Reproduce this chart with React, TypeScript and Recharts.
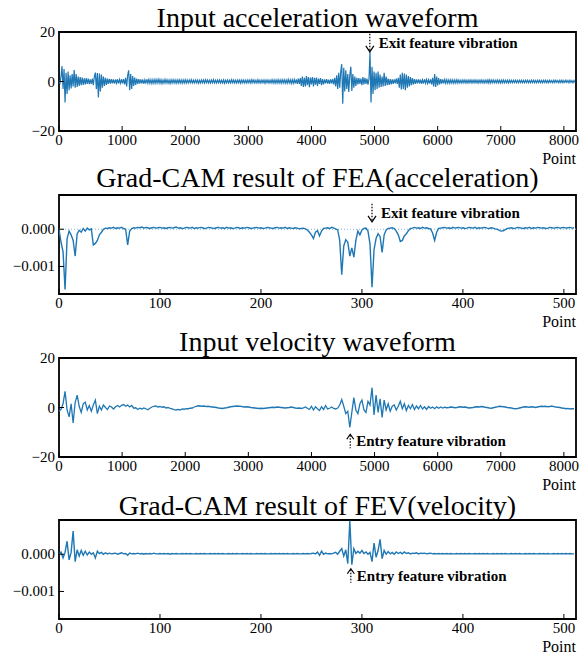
import { LineChart, Line, XAxis, YAxis, ReferenceArea, ReferenceLine, ReferenceDot } from "recharts";

const SERIF = '"Liberation Serif", "Times New Roman", serif';
const BLUE = "#1f77b4";

// sample spacing of the stored values (points)
const ACC_STEP = 16;
const VEL_STEP = 32;
const CAM_STEP = 2;

const waveTicksX = [0, 1000, 2000, 3000, 4000, 5000, 6000, 7000, 8000];
const waveTicksY = [-20, 0, 20];
const camTicksX = [0, 100, 200, 300, 400, 500];
const camTicksY = [-1, 0]; // x 1e-3

// input acceleration waveform, one value every 16 points
const accel = [
  0.3, -0.6, 2.0, 6.2, -3.0, 5.0, -8.5, 3.5, -5.0, 4.0, -3.5, 2.5, -2.8, 3.0, -2.0, 4.6,
  -2.5, 3.0, -2.2, 2.0, -1.8, 1.8, -1.5, 1.6, -1.4, 1.3, -1.2, 1.4, -1.0, 1.2, -1.1, 0.9,
  -1.0, 1.2, -1.5, 2.0, 3.6, -3.0, 3.4, -6.5, 3.2, -4.0, 2.8, -2.5, 2.0, -1.8, 1.5, -1.4,
  1.2, -1.0, 1.1, -0.9, 1.0, -0.8, 0.9, -0.9, 0.8, -0.7, 0.9, -0.8, 0.8, -0.7, 0.9, -0.8,
  1.0, -1.2, 1.5, -2.0, 2.5, 4.5, -3.5, 3.0, -3.0, 2.2, -1.8, 1.6, -1.4, 1.2, -1.0, 1.0,
  -0.9, 0.9, -0.8, 0.8, -0.9, 0.7, -0.8, 0.9, -0.7, 0.8, -0.7, 0.7, -0.8, 0.7, -0.7, 0.8,
  -0.7, 0.8, -0.6, 0.9, -0.7, 0.7, -0.8, 0.6, -0.7, 0.8, -0.6, 0.7, -0.7, 0.6, -0.8, 0.7,
  -0.6, 0.7, -0.6, 0.6, -0.7, 0.6, -0.6, 0.7, -0.6, 0.6, -0.7, 0.6, -0.6, 0.7, -0.6, 0.6,
  -0.6, 0.6, -0.5, 0.7, -0.6, 0.5, -0.6, 0.6, -0.5, 0.6, -0.7, 0.5, -0.6, 0.6, -0.5, 0.6,
  -0.6, 0.7, -0.5, 0.6, -0.6, 0.5, -0.6, 0.6, -0.5, 0.7, -0.6, 0.5, -0.6, 0.6, -0.5, 0.6,
  -0.6, 0.5, -0.6, 0.6, -0.7, 0.5, -0.5, 0.6, -0.6, 0.5, -0.6, 0.7, -0.5, 0.6, -0.6, 0.5,
  -0.6, 0.6, -0.5, 0.6, -0.7, 0.6, -0.5, 0.6, -0.6, 0.5, -0.6, 0.6, -0.5, 0.6, -0.6, 0.7,
  -0.5, 0.6, -0.6, 0.5, -0.6, 0.7, -0.6, 0.5, -0.6, 0.6, -0.5, 0.6, -0.7, 0.6, -0.5, 0.6,
  -0.6, 0.5, -0.6, 0.7, -0.6, 0.6, -0.7, 0.6, -0.6, 0.7, -0.6, 0.6, -0.7, 0.7, -0.6, 0.7,
  -0.7, 0.6, -0.7, 0.8, -0.6, 0.7, -0.8, 0.7, -0.7, 0.8, -0.8, 0.9, -1.0, 1.2, -1.0, 1.4,
  -1.8, 2.0, -2.2, 1.5, -2.0, 2.2, -1.5, 1.8, -2.3, 1.6, -1.2, 1.8, -2.0, 1.5, -1.3, 1.6,
  -1.8, 1.2, -1.0, 1.4, -1.5, 1.0, -1.2, 0.9, -0.8, 1.0, -0.9, 0.8, -1.0, 0.9, -0.8, 1.0,
  -1.2, 1.5, -2.0, 2.5, -3.0, 3.5, -2.5, 4.0, 7.0, -9.0, 5.5, -4.0, 4.5, -3.0, 3.0, -4.2,
  2.5, 6.0, -3.8, 3.0, -2.5, 2.0, -1.8, 1.5, -1.2, 1.4, -1.0, 1.2, -1.5, 1.8, -1.2, 1.5,
  -1.0, 1.2, -1.3, 1.0, 12.0, -8.5, 6.0, -5.0, 4.0, -3.5, 3.5, -3.0, 4.0, -2.5, 2.8, -2.2,
  2.0, -2.0, 3.5, -1.8, 2.0, -1.5, 1.2, -1.4, 1.0, -1.2, 0.9, -1.0, 0.9, -0.8, 1.2, -1.0,
  1.5, -2.5, 2.8, -3.2, 3.5, -3.0, 3.2, -3.5, 2.8, -2.5, 2.2, -2.0, 1.8, -1.5, 1.4, -1.2,
  1.0, -1.0, 0.9, -0.8, 0.9, -0.8, 0.8, -0.9, 0.7, -0.8, 0.9, -0.7, 0.8, -0.8, 0.7, -0.8,
  0.9, -1.2, 1.5, -2.0, 3.0, -2.2, 2.0, -1.6, 1.4, -1.2, 1.0, -0.9, 0.9, -0.8, 0.8, -0.7,
  0.7, -0.7, 0.6, -0.7, 0.7, -0.6, 0.6, -0.7, 0.6, -0.6, 0.7, -0.6, 0.6, -0.6, 0.5, -0.6,
  0.6, -0.5, 0.6, -0.6, 0.5, -0.6, 0.6, -0.5, 0.6, -0.6, 0.5, -0.5, 0.6, -0.5, 0.5, -0.6,
  0.5, -0.5, 0.6, -0.5, 0.5, -0.6, 0.5, -0.5, 0.6, -0.6, 0.7, -0.6, 0.6, -0.5, 0.6, -0.5,
  0.5, -0.5, 0.6, -0.5, 0.5, -0.6, 0.5, -0.5, 0.6, -0.5, 0.5, -0.5, 0.5, -0.6, 0.5, -0.5,
  0.5, -0.5, 0.5, -0.4, 0.5, -0.5, 0.4, -0.5, 0.5, -0.4, 0.5, -0.5, 0.4, -0.5, 0.5, -0.4,
  0.5, -0.5, 0.4, -0.5, 0.5, -0.4, 0.5, -0.5, 0.4, -0.5, 0.5, -0.4, 0.5, -0.5, 0.4, -0.5,
  0.5, -0.4, 0.5, -0.5, 0.4, -0.5, 0.5, -0.4, 0.4, -0.5, 0.5, -0.4, 0.5, -0.4, 0.4, -0.5,
  0.5, -0.4, 0.5, -0.5, 0.4, -0.4, 0.5, -0.4, 0.4, -0.5, 0.5, -0.4, 0.4, -0.5, 0.4, -0.4,
];

// input velocity waveform, one value every 32 points
const velocity = [
  -1.5, -0.8, 1.5, 6.5, -1.0, -3.8, 1.5, -6.2, 2.0, 5.0, 0.5, -2.0, 1.5, 2.2, -1.0, 0.8,
  -1.5, 1.0, 3.0, -2.5, 0.5, -1.0, 1.0, 0.0, -0.8, 0.6, 0.2, -0.6, 0.3, 0.8, 0.2, 0.9,
  1.2, 0.5, 1.0, 0.2, 0.8, -0.3, -0.1, -0.8, -0.3, -0.6, -0.2, -0.5, -0.9, -0.3, 0.2, 0.5,
  0.6, 0.2, 0.4, 0.1, 0.3, -0.2, 0.0, -0.4, -0.6, -0.9, -1.0, -0.8, -1.0, -0.6, -0.7, -0.5,
  -0.5, -0.3, -0.2, 0.2, 0.5, 0.7, 0.6, 0.5, 0.6, 0.4, 0.5, 0.3, 0.2, 0.1, 0.0, -0.2,
  -0.3, -0.4, -0.2, -0.1, 0.1, 0.3, 0.4, 0.5, 0.6, 0.5, 0.5, 0.3, 0.2, 0.3, 0.2, 0.0,
  -0.1, -0.2, -0.3, -0.4, -0.3, -0.4, -0.3, -0.2, -0.1, 0.0, 0.1, 0.0, 0.2, 0.1, 0.0, -0.1,
  -0.2, -0.1, 0.0, 0.2, 0.0, -0.2, -0.3, -0.2, -0.4, -0.2, 0.2, -0.3, -0.8, 0.5, -1.0, 0.3,
  -0.5, -1.2, 0.3, -0.8, 0.8, -0.6, -0.3, 0.2, -0.4, -0.6, -0.2, 1.0, 3.2, 0.5, -2.5, -1.5,
  -8.0, -2.0, 4.0, -1.0, -2.5, 1.5, 3.0, -1.0, -2.0, 2.5, 1.0, 8.0, -3.0, 5.0, -2.0, 3.5,
  -4.0, 3.0, -1.0, 1.5, -1.5, 0.5, 1.0, -1.0, 0.5, 2.5, -0.5, 1.5, -1.2, 0.8, -0.5, 1.2,
  -0.8, 0.6, -0.5, 0.8, -0.6, 0.3, -0.8, 0.4, -0.3, 0.2, -0.5, 0.3, -0.3, 0.2, -0.2, 0.1,
  -0.1, 0.0, 0.2, 0.1, -0.1, 0.0, 0.2, 0.3, 0.1, 0.2, 0.0, -0.2, -0.1, 0.0, 0.2, 0.3,
  0.2, 0.4, 0.3, 0.1, 0.0, -0.2, -0.3, -0.1, 0.1, 0.3, 0.5, 0.4, 0.3, 0.2, 0.0, -0.1,
  -0.2, -0.4, -0.5, -0.4, -0.2, 0.0, 0.2, 0.3, 0.2, 0.1, 0.3, 0.2, 0.0, 0.2, 0.4, 0.5,
  0.4, 0.5, 0.3, 0.4, 0.6, 0.4, 0.2, 0.1, 0.0, -0.2, -0.3, -0.5, -0.4, -0.6, -0.5, -0.5,
];

// Grad-CAM of FEA, x 1e-3, one value every 2 points
const camAccel = [
  0, -0.35, -0.6, -1.62, -0.25, -0.05, -0.15, -0.3, -0.72, -0.12,
  -0.03, -0.08, 0.02, -0.05, 0.03, -0.02, 0.01, -0.42, -0.38, -0.3,
  -0.15, -0.08, 0, 0.03, 0.02, 0.04, 0.03, 0.05, 0.02, 0.04,
  0.03, 0.05, 0.02, 0, -0.42, -0.05, 0.02, 0.04, 0.03, 0.05,
  0.04, 0.06, 0.03, 0.05, 0.04, 0.02, 0.04, 0.05, 0.03, 0.04,
  0.05, 0.03, 0.04, 0.02, 0.04, 0.05, 0.03, 0.04, 0.06, 0.03,
  0.04, 0.02, 0.03, 0.05, 0.04, 0.03, 0.05, 0.02, 0.04, 0.03,
  0.05, 0.04, 0.02, 0.03, 0.05, 0.04, 0.03, 0.02, 0.04, 0.05,
  0.03, 0.04, 0.02, 0.05, 0.03, 0.04, 0.02, 0.03, 0.05, 0.04,
  0.02, 0.04, 0.03, 0.05, 0.04, 0.02, 0.03, 0.04, 0.05, 0.03,
  0.04, 0.02, 0.03, 0.05, 0.04, 0.03, 0.02, 0.04, 0.05, 0.03,
  0.04, 0.03, 0.05, 0.02, 0.04, 0.03, 0.02, 0.04, 0.03, 0.01,
  0.02, 0.03, 0.01, -0.02, -0.08, -0.15, -0.25, -0.08, -0.04, -0.18,
  -0.05, 0.02, 0.03, 0.04, 0.02, 0.05, 0.03, 0.01, -0.02, -0.3,
  -1.22, -0.45, -0.28, -0.35, -0.72, -0.5, -0.75, -0.3, -0.05, -0.15,
  -0.02, 0.02, 0.03, -0.05, -0.4, -1.56, -0.55, -0.25, -0.12, -0.2,
  -0.62, -0.15, -0.02, 0.02, 0.03, 0.04, 0.02, -0.05, -0.15, -0.33,
  -0.3, -0.18, -0.12, -0.04, 0.02, 0.03, 0.05, 0.03, 0.04, 0.02,
  0.05, 0.03, 0.04, 0.02, 0.01, -0.1, -0.3, -0.08, 0.02, 0.03,
  0.04, 0.05, 0.03, 0.04, 0.02, 0.05, 0.03, 0.04, 0.05, 0.03,
  0.04, 0.02, 0.03, 0.05, 0.04, 0.03, 0.05, 0.02, 0.04, 0.03,
  0.04, 0.05, 0.03, 0.02, 0.04, 0.03, 0.01, 0, -0.03, -0.05,
  -0.04, -0.01, 0.02, 0.03, 0.04, 0.02, 0.03, 0.05, 0.04, 0.03,
  0.02, 0.04, 0.03, 0.05, 0.02, 0.04, 0.03, 0.05, 0.04, 0.03,
  0.04, 0.02, 0.03, 0.05, 0.04, 0.03, 0.04, 0.05, 0.03, 0.04,
  0.05, 0.03, 0.04, 0.05, 0.03, 0.04,
];

// Grad-CAM of FEV, x 1e-3, one value every 2 points
const camVelocity = [
  0, 0.06, -0.1, 0.05, 0.35, -0.15, 0.05, 0.62, -0.2, 0.12,
  -0.05, 0.1, -0.03, 0.08, -0.02, 0.06, 0, 0.04, -0.1, 0.08,
  0.02, 0.05, 0, 0.04, 0.01, 0.03, 0.01, 0.02, 0.03, 0,
  0.02, 0.04, 0.01, 0.02, -0.03, 0.03, 0.01, 0.02, 0.01, 0.03,
  0.01, 0.02, 0, 0.02, 0.01, 0.02, 0.01, 0.03, 0.01, 0.01,
  0.02, 0.01, 0.02, 0.01, 0.02, 0, 0.02, 0.01, 0.02, 0.01,
  0.01, 0.02, 0.01, 0.02, 0.01, 0.02, 0.01, 0.01, 0.02, 0.01,
  0.02, 0.01, 0.02, 0.01, 0.01, 0.02, 0.01, 0.02, 0.01, 0.02,
  0.01, 0.02, 0.01, 0.01, 0.02, 0.01, 0.02, 0.01, 0.02, 0.01,
  0.01, 0.02, 0.01, 0.02, 0.01, 0.02, 0.01, 0.01, 0.02, 0.01,
  0.02, 0.01, 0.02, 0.01, 0.01, 0.02, 0.01, 0.02, 0.01, 0.02,
  0.01, 0.02, 0.01, 0.02, 0.01, 0.01, 0.02, 0.01, 0.02, 0.01,
  0.01, 0.02, 0.01, 0.02, 0.01, 0.02, 0.03, 0.01, 0.06, -0.03,
  0.08, 0, 0.03, 0.01, 0.02, 0.01, 0.03, 0.05, 0, 0.08,
  0.15, -0.05, 0.12, -0.25, 0.9, -0.28, 0.15, 0.02, 0.08, 0.03,
  0.1, 0.02, 0.06, 0, 0.05, -0.2, 0.3, -0.08, 0.1, 0.4,
  -0.12, 0.1, 0, 0.07, 0.01, 0.05, 0, 0.06, 0.02, 0.05,
  0.01, 0.06, 0.02, 0.04, 0.01, 0.03, 0.02, 0.04, 0.01, 0.03,
  0.02, 0.03, 0.01, 0.02, 0.03, 0.01, 0.02, 0.01, 0.02, 0.01,
  0.02, 0.01, 0.02, 0.01, 0.02, 0.01, 0.01, 0.02, 0.01, 0.02,
  0.01, 0.02, 0.01, 0.02, 0.01, 0.01, 0.02, 0.01, 0.02, 0.01,
  0.02, 0.01, 0.02, 0.01, 0.01, 0.02, 0.01, 0.02, 0.01, 0.02,
  0.01, 0.02, 0.01, 0.01, 0.02, 0.01, 0.02, 0.01, 0.02, 0.01,
  0.01, 0.02, 0.01, 0.02, 0.01, 0.02, 0.01, 0.01, 0.02, 0.01,
  0.02, 0.01, 0.02, 0.01, 0.01, 0.02, 0.01, 0.02, 0.01, 0.02,
  0.01, 0.02, 0.01, 0.02, 0.01, 0.01,
];

type Note = { x: number; y: number; text: string; dir: "down" | "up" };

const exitNoteAccel: Note = { x: 4925, y: 12, text: "Exit feature vibration", dir: "down" };
const exitNoteCam: Note = { x: 310, y: 0.2, text: "Exit feature vibration", dir: "down" };
const entryNoteVel: Note = { x: 4615, y: -10.8, text: "Entry feature vibration", dir: "up" };
const entryNoteCam: Note = { x: 289, y: -0.39, text: "Entry feature vibration", dir: "up" };

const toRows = (values: number[], step: number) => values.map((y, i) => ({ x: i * step, y }));

const fmtWave = (v: number) => String(v).replace("-", "\u2212");
const fmtCam = (v: number) => (v / 1000).toFixed(3).replace("-", "\u2212");

const serifStyle = { fontFamily: SERIF };

function noteShape(note: Note) {
  return (props: any) => {
    const { cx, cy } = props;
    const textProps = { fontSize: 15, fontWeight: "bold" as const, style: serifStyle, fill: "#000" };
    if (note.dir === "down") {
      return (
        <g>
          <line x1={cx} y1={cy - 18} x2={cx} y2={cy - 1} stroke="#000" strokeWidth={1.2} strokeDasharray="1.5 1.5" />
          <path d={`M${cx - 4},${cy - 6} L${cx},${cy} L${cx + 4},${cy - 6}`} fill="none" stroke="#000" strokeWidth={1.2} />
          <text x={cx + 9} y={cy - 4} {...textProps}>{note.text}</text>
        </g>
      );
    }
    return (
      <g>
        <line x1={cx} y1={cy + 1} x2={cx} y2={cy + 14} stroke="#000" strokeWidth={1.2} strokeDasharray="1.5 1.5" />
        <path d={`M${cx - 3.5},${cy + 5} L${cx},${cy} L${cx + 3.5},${cy + 5}`} fill="none" stroke="#000" strokeWidth={1.2} />
        <text x={cx + 6} y={cy + 12} {...textProps}>{note.text}</text>
      </g>
    );
  };
}

function BottomTick(props: any) {
  const { x, y, payload } = props;
  return (
    <text x={x} y={y + 11} textAnchor="middle" fontSize={15} fill="#000" style={serifStyle}>
      {payload.value}
    </text>
  );
}

function leftTick(format: (v: number) => string) {
  return (props: any) => {
    const { x, y, payload } = props;
    return (
      <text x={x} y={y + 5} textAnchor="end" fontSize={15} fill="#000" style={serifStyle}>
        {format(payload.value)}
      </text>
    );
  };
}

interface PanelProps {
  title: string;
  titleBaseline: number;
  frameTop: number;
  rows: { x: number; y: number }[];
  xMax: number;
  yDomain: [number, number];
  xTicks: number[];
  yTicks: number[];
  formatY: (v: number) => string;
  note: Note;
  lineWidth: number;
  zeroLine?: boolean;
}

const FRAME_H = 99;

function Panel({ title, titleBaseline, frameTop, rows, xMax, yDomain, xTicks, yTicks, formatY, note, lineWidth, zeroLine }: PanelProps) {
  return (
    <>
      <div
        style={{
          position: "absolute",
          left: 59,
          width: 517,
          top: titleBaseline - 23.4,
          fontSize: 28,
          lineHeight: "28px",
          textAlign: "center",
          whiteSpace: "nowrap",
        }}
      >
        {title}
      </div>
      <div style={{ position: "absolute", left: 0, top: frameTop - 10 }}>
        <LineChart width={579} height={FRAME_H + 30} data={rows} margin={{ top: 10, right: 3, bottom: 0, left: 0 }}>
          <XAxis
            type="number"
            dataKey="x"
            domain={[0, xMax]}
            ticks={xTicks}
            interval={0}
            allowDataOverflow
            axisLine={false}
            tickLine={{ stroke: "#000", strokeWidth: 1 }}
            tickSize={-5}
            tickMargin={8}
            height={20}
            tick={<BottomTick />}
          />
          <YAxis
            type="number"
            domain={yDomain}
            ticks={yTicks}
            interval={0}
            allowDataOverflow
            width={59}
            axisLine={false}
            tickLine={{ stroke: "#000", strokeWidth: 1 }}
            tickSize={-5}
            tickMargin={9}
            tick={leftTick(formatY)}
          />
          {zeroLine && <ReferenceLine y={0} stroke="#7fb8e0" strokeWidth={1} strokeDasharray="1 2" />}
          <Line type="linear" dataKey="y" stroke={BLUE} strokeWidth={lineWidth} dot={false} isAnimationActive={false} />
          <ReferenceArea
            x1={0}
            x2={xMax}
            y1={yDomain[0]}
            y2={yDomain[1]}
            fill="none"
            fillOpacity={0}
            stroke="#000"
            strokeWidth={1.8}
            ifOverflow="visible"
          />
          <ReferenceDot x={note.x} y={note.y} ifOverflow="visible" shape={noteShape(note)} />
        </LineChart>
      </div>
      <div
        style={{
          position: "absolute",
          right: 579 - 576,
          top: frameTop + FRAME_H + 33 - 13.4,
          fontSize: 16,
          lineHeight: "16px",
          fontFamily: SERIF,
        }}
      >
        Point
      </div>
    </>
  );
}

export default function App() {
  return (
    <div
      style={{
        position: "absolute",
        left: 0,
        top: 0,
        width: 579,
        height: 655,
        background: "#fff",
        color: "#000",
        fontFamily: SERIF,
        overflow: "hidden",
      }}
    >
      <Panel
        title="Input acceleration waveform"
        titleBaseline={27}
        frameTop={32}
        rows={toRows(accel, ACC_STEP)}
        xMax={8192}
        yDomain={[-20, 20]}
        xTicks={waveTicksX}
        yTicks={waveTicksY}
        formatY={fmtWave}
        note={exitNoteAccel}
        lineWidth={1.2}
      />
      <Panel
        title="Grad-CAM result of FEA(acceleration)"
        titleBaseline={187.3}
        frameTop={195}
        rows={toRows(camAccel, CAM_STEP)}
        xMax={512}
        yDomain={[-1.74, 0.92]}
        xTicks={camTicksX}
        yTicks={camTicksY}
        formatY={fmtCam}
        note={exitNoteCam}
        lineWidth={1.4}
        zeroLine
      />
      <Panel
        title="Input velocity waveform"
        titleBaseline={351.7}
        frameTop={358}
        rows={toRows(velocity, VEL_STEP)}
        xMax={8192}
        yDomain={[-20, 20]}
        xTicks={waveTicksX}
        yTicks={waveTicksY}
        formatY={fmtWave}
        note={entryNoteVel}
        lineWidth={1.3}
      />
      <Panel
        title="Grad-CAM result of FEV(velocity)"
        titleBaseline={515}
        frameTop={520}
        rows={toRows(camVelocity, CAM_STEP)}
        xMax={512}
        yDomain={[-1.74, 0.92]}
        xTicks={camTicksX}
        yTicks={camTicksY}
        formatY={fmtCam}
        note={entryNoteCam}
        lineWidth={1.4}
      />
    </div>
  );
}
